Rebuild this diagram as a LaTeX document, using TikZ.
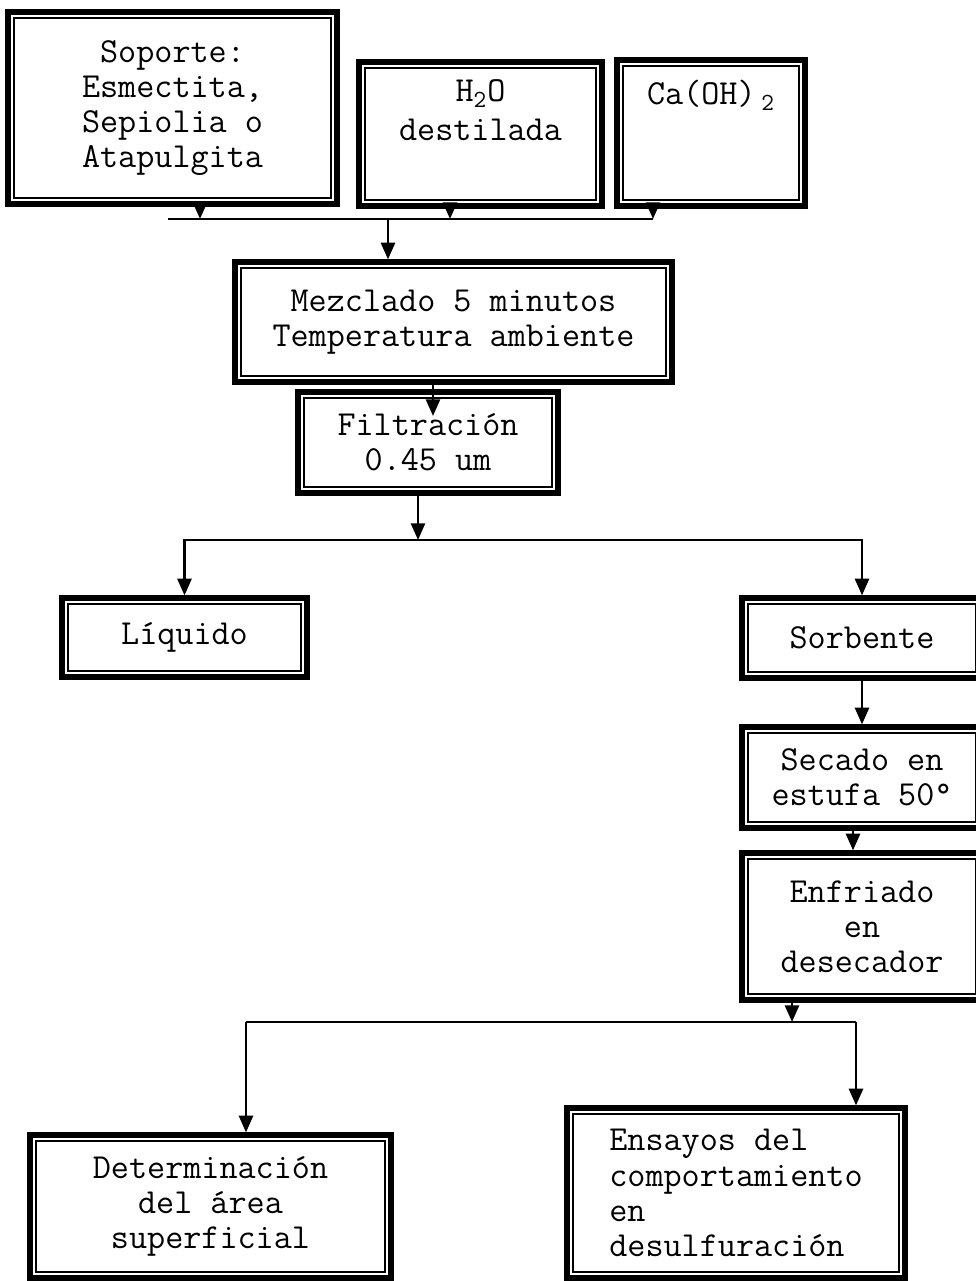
\documentclass[tikz,border=0pt]{standalone}
\usepackage{fontspec}
\usepackage{tikz}
\usetikzlibrary{positioning,arrows.meta}

\tikzset{
  kasten/.style={draw, line width=3pt, align=center, inner sep=2pt,
    font=\ttfamily\fontsize{20}{20}\selectfont,
    append after command={\pgfextra{\draw[line width=0.8pt] ([shift={(5pt,5pt)}]\tikzlastnode.south west) rectangle ([shift={(-5pt,-5pt)}]\tikzlastnode.north east);}}},
  pfeil/.style={->, line width=1.4pt}
}

\begin{document}
\begin{tikzpicture}[>={Triangle[length=9.5pt,width=8pt]}, x=0.02cm, y=-0.02cm] % Pixelkoordinaten

    \useasboundingbox (0,0) rectangle (976,1281);

    % Ausgangsstoffe
    \node[kasten, minimum width=6.58cm, minimum height=3.84cm] (soporte) at (172.5,108) {Soporte:\\Esmectita,\\Sepiolia o\\Atapulgita};
    \node[kasten, minimum width=4.86cm, minimum height=2.88cm] (agua) at (480.5,134) {H\textsubscript{2}O\\[2pt]destilada\\[7pt]~};
    \node[kasten, minimum width=3.76cm, minimum height=2.92cm] (cal) at (711,133) {Ca(OH)\,\textsubscript{2}\\[26pt]~};

    % Sammelleitung
    \coordinate (b1) at (200,219);
    \coordinate (b2) at (450,219);
    \coordinate (b3) at (653,219);
    \coordinate (b0) at (168,219);
    \coordinate (bm) at (388,219);
    \draw[line width=1.4pt] (b0) -- (b3);
    \draw[pfeil] (soporte.south -| b1) -- (b1);
    \draw[pfeil] (agua.south -| b2) -- (b2);
    \draw[pfeil] (cal.south -| b3) -- (b3);

    % Verarbeitung
    \node[kasten, minimum width=8.74cm, minimum height=2.4cm] (mezcla) at (453.5,322) {Mezclado 5 minutos\\Temperatura ambiente};
    \node[kasten, minimum width=5.2cm, minimum height=2.02cm] (filtro) at (428,442.5) {Filtración\\0.45 um};
    \draw[pfeil] (bm) -- (bm |- mezcla.north);
    \coordinate (fm) at (433,416);
    \draw[pfeil] (mezcla.south -| fm) -- (fm);

    % Trennung
    \node[kasten, minimum width=4.9cm, minimum height=1.58cm] (liquido) at (184.5,637.5) {Líquido};
    \node[kasten, minimum width=4.8cm, minimum height=1.6cm] (sorbente) at (862,638) {Sorbente};
    \coordinate (s1) at (418,540);
    \draw[pfeil] (filtro.south -| s1) -- (s1);
    \draw[pfeil] (s1) -| (liquido.north);
    \draw[pfeil] (s1) -| (sorbente.north);

    % Trocknung
    \node[kasten, minimum width=4.8cm, minimum height=2.02cm] (secado) at (862,777.5) {Secado en\\estufa 50°};
    \node[kasten, minimum width=4.8cm, minimum height=2.94cm] (enfriado) at (862,926.5) {Enfriado\\en\\desecador};
    \draw[pfeil] (sorbente) -- (secado);
    \draw[pfeil] ([xshift=-0.18cm]secado.south) -- ([xshift=-0.18cm]enfriado.north);

    % Analysen
    \node[kasten, minimum width=7.22cm, minimum height=2.86cm] (area) at (210.5,1206.5) {Determinación\\del área\\superficial};
    \node[kasten, minimum width=6.76cm, minimum height=3.4cm, align=left] (ensayos) at (736,1193) {Ensayos del\\comportamiento\\en\\desulfuración};
    \coordinate (s2) at (792,1022);
    \coordinate (c1) at (246,1022);
    \coordinate (c2) at (856,1022);
    \draw[pfeil] (enfriado.south -| s2) -- (s2);
    \draw[line width=1.4pt] (c1) -- (c2);
    \draw[pfeil] (c1) -- (c1 |- area.north);
    \draw[pfeil] (c2) -- (c2 |- ensayos.north);

\end{tikzpicture}
\end{document}
